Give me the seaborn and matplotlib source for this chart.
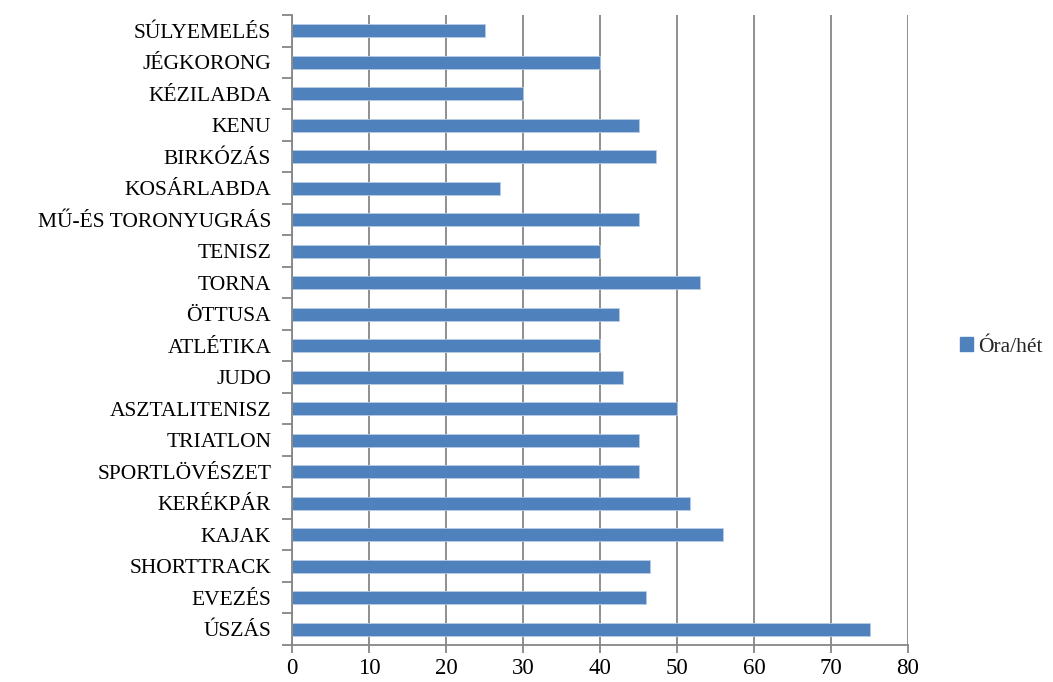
import matplotlib
matplotlib.use("Agg")
import matplotlib.pyplot as plt
import seaborn as sns
import pandas as pd
from matplotlib.patches import Patch
from matplotlib.ticker import MultipleLocator

categories = ["SÚLYEMELÉS", "JÉGKORONG", "KÉZILABDA", "KENU", "BIRKÓZÁS",
              "KOSÁRLABDA", "MŰ-ÉS TORONYUGRÁS", "TENISZ", "TORNA", "ÖTTUSA",
              "ATLÉTIKA", "JUDO", "ASZTALITENISZ", "TRIATLON", "SPORTLÖVÉSZET",
              "KERÉKPÁR", "KAJAK", "SHORTTRACK", "EVEZÉS", "ÚSZÁS"]
values = [25, 40, 30, 45, 47.3, 27, 45, 40, 53, 42.5,
          40, 43, 50, 45, 45, 51.7, 56, 46.5, 46, 75]
series_name = "Óra/hét"
x_ticks = [0, 10, 20, 30, 40, 50, 60, 70, 80]

df = pd.DataFrame({"cat": categories, "val": values})

sns.set_style("white")
plt.rcParams["font.family"] = ["Liberation Serif", "DejaVu Serif"]

bar_color = "#4F81BD"
grid_color = "#868686"
fs = 15.5

fig = plt.figure(figsize=(10.53, 6.82), dpi=100)
ax = fig.add_axes([292/1053, 1 - 645/682, (908-292)/1053, (645-15)/682])

sns.barplot(data=df, x="val", y="cat", orient="h", color=bar_color,
            width=0.42, saturation=1, ax=ax, edgecolor="#B8CCE4", linewidth=0.6)

ax.set_xlim(0, 80)
ax.set_ylim(len(categories) - 0.5, -0.5)
ax.set_xticks(x_ticks)
ax.xaxis.grid(True, color=grid_color, linewidth=1.3)
ax.set_axisbelow(True)
ax.set_xlabel("")
ax.set_ylabel("")

for s in ["top", "right"]:
    ax.spines[s].set_visible(False)
for s in ["left", "bottom"]:
    ax.spines[s].set_color(grid_color)
    ax.spines[s].set_linewidth(1.3)

ax.tick_params(axis="x", which="major", direction="out", length=6, width=1.3,
               color=grid_color, labelsize=fs + 1, pad=3, bottom=True)
ax.tick_params(axis="y", which="major", length=0, labelsize=fs, pad=15)
ax.set_yticks(range(len(categories)))
ax.set_yticklabels(categories)
ax.yaxis.set_minor_locator(MultipleLocator(1, offset=0.5))
ax.tick_params(axis="y", which="minor", direction="out", length=7, width=1.3,
               color=grid_color, left=True)
for lab in ax.get_xticklabels() + ax.get_yticklabels():
    lab.set_color("black")

handle = Patch(facecolor=bar_color, edgecolor=bar_color)
fig.legend([handle], [series_name], loc="center left",
           bbox_to_anchor=(960/1053, 1 - 347/682), frameon=False,
           fontsize=fs, handlelength=0.6, handleheight=0.6, handletextpad=0.25,
           borderaxespad=0, borderpad=0)

fig.savefig("out.png", dpi=100)
